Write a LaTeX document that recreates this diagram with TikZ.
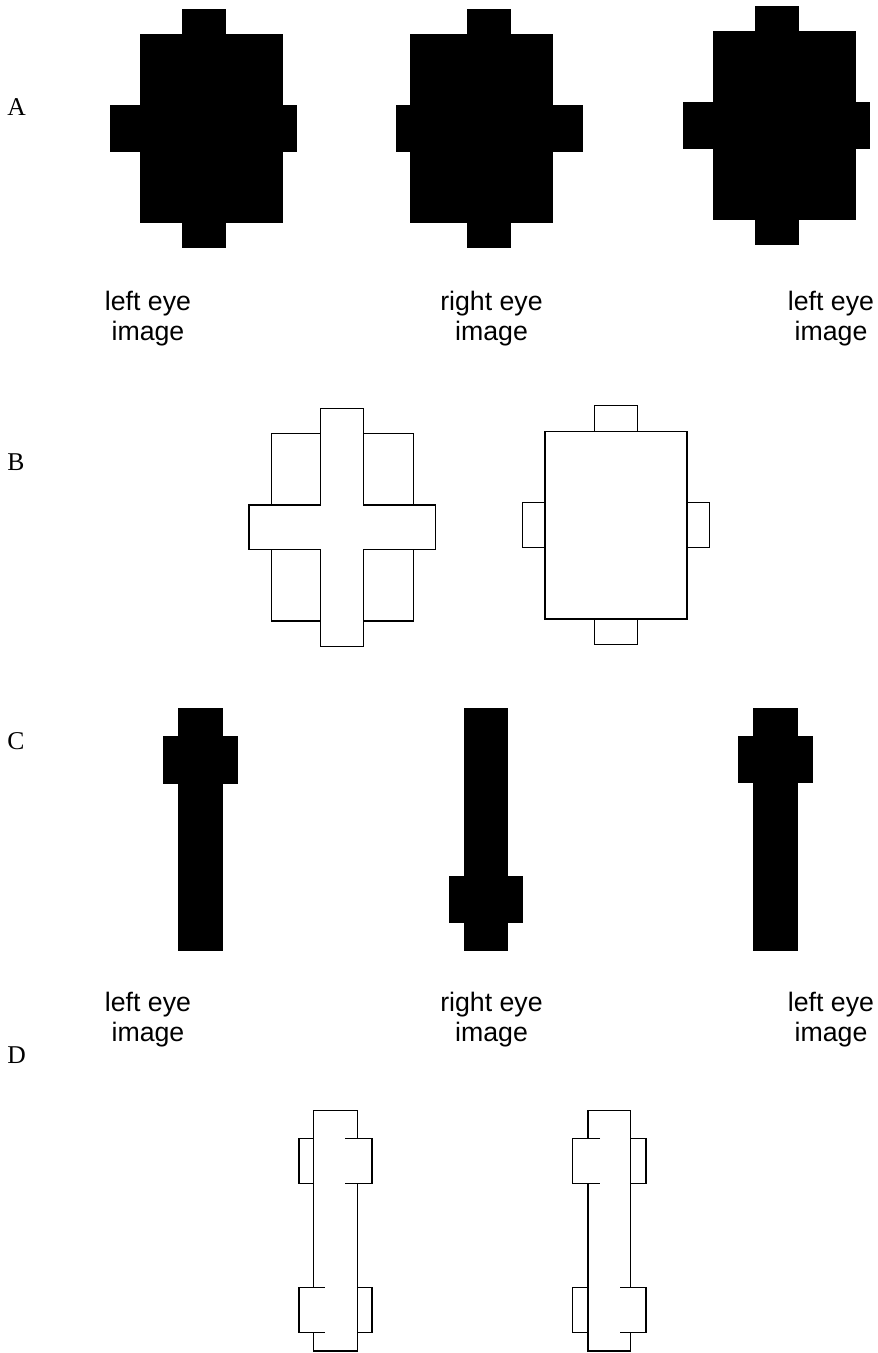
\documentclass[tikz,border=0pt]{standalone}
\usepackage{fontspec}
\setmainfont{Liberation Serif}
\newfontfamily\helv{Liberation Sans}
\begin{document}
\begin{tikzpicture}[x=1pt,y=-1pt,
  rotulo/.style={font=\helv\fontsize{26.7}{30}\selectfont,align=center,inner sep=0pt,anchor=north},
  letra/.style={font=\fontsize{25.6}{28}\selectfont,inner sep=0pt,anchor=base west},
  contorno/.style={line width=1.4pt,fill=white}]
\useasboundingbox (0,0) rectangle (878,1353);
%linha A
  \fill (140,34) rectangle (283,223);
  \fill (182,9) rectangle (226,248);
  \fill (110,105) rectangle (297,152);
  \fill (410,34) rectangle (553,223);
  \fill (467,9) rectangle (511,248);
  \fill (396,105) rectangle (583,152);
  \fill (713,31) rectangle (856,220);
  \fill (755,6) rectangle (799,245);
  \fill (683,102) rectangle (870,149);
%linha B
  \filldraw[contorno] (271.7,433.7) rectangle (413.3,621);
  \filldraw[contorno] (320.7,408.3) -- (363.7,408.3) -- (363.7,505) -- (435.3,505)
    -- (435.3,549.7) -- (363.7,549.7) -- (363.7,646.7) -- (320.7,646.7)
    -- (320.7,549.7) -- (249,549.7) -- (249,505) -- (320.7,505) -- cycle;
  \draw[contorno] (594.7,405.7) rectangle (637.3,644.3);
  \draw[contorno] (522.7,502.3) rectangle (709.3,547.7);
  \filldraw[contorno] (545,431.3) rectangle (687,619);
%linha C
  \fill (178,708) rectangle (222.7,951);
  \fill (163,736.3) rectangle (237.7,783.7);
  \fill (464,708) rectangle (508.3,951);
  \fill (449,876) rectangle (523.3,923.3);
  \fill (753.3,708) rectangle (798,951);
  \fill (738.3,736.3) rectangle (813.3,783.3);
%linha D
  \filldraw[contorno] (313.7,1110.7) rectangle (357.3,1351);
  \draw[contorno] (299,1138.7) rectangle (313.7,1183.7);
  \filldraw[contorno] (345.3,1138.7) -- (372,1138.7) -- (372,1183.7) -- (345.3,1183.7);
  \filldraw[contorno] (324.7,1287.3) -- (299,1287.3) -- (299,1332.3) -- (324.7,1332.3);
  \draw[contorno] (357.3,1287.3) rectangle (372,1332.3);
  \filldraw[contorno] (588,1110.7) rectangle (630.7,1351);
  \filldraw[contorno] (600,1138.7) -- (572.7,1138.7) -- (572.7,1183.7) -- (600,1183.7);
  \draw[contorno] (630.7,1138.7) rectangle (646,1183.7);
  \draw[contorno] (572.7,1287.3) rectangle (588,1332.3);
  \filldraw[contorno] (620.3,1287.3) -- (646,1287.3) -- (646,1332.3) -- (620.3,1332.3);
%rótulos
  \node[letra] (letraA) at (7.3,115) {A};
  \node[letra] (letraB) at (7.3,470) {B};
  \node[letra] (letraC) at (7.3,749) {C};
  \node[letra] (letraD) at (7.3,1063) {D};
  \node[rotulo] (olhoA1) at (148,290.5) {left eye\\image};
  \node[rotulo] (olhoA2) at (491.5,290.5) {right eye\\image};
  \node[rotulo] (olhoA3) at (831,290.5) {left eye\\image};
  \node[rotulo] (olhoC1) at (148,992) {left eye\\image};
  \node[rotulo] (olhoC2) at (491.5,992) {right eye\\image};
  \node[rotulo] (olhoC3) at (831,992) {left eye\\image};
\end{tikzpicture}
\end{document}
